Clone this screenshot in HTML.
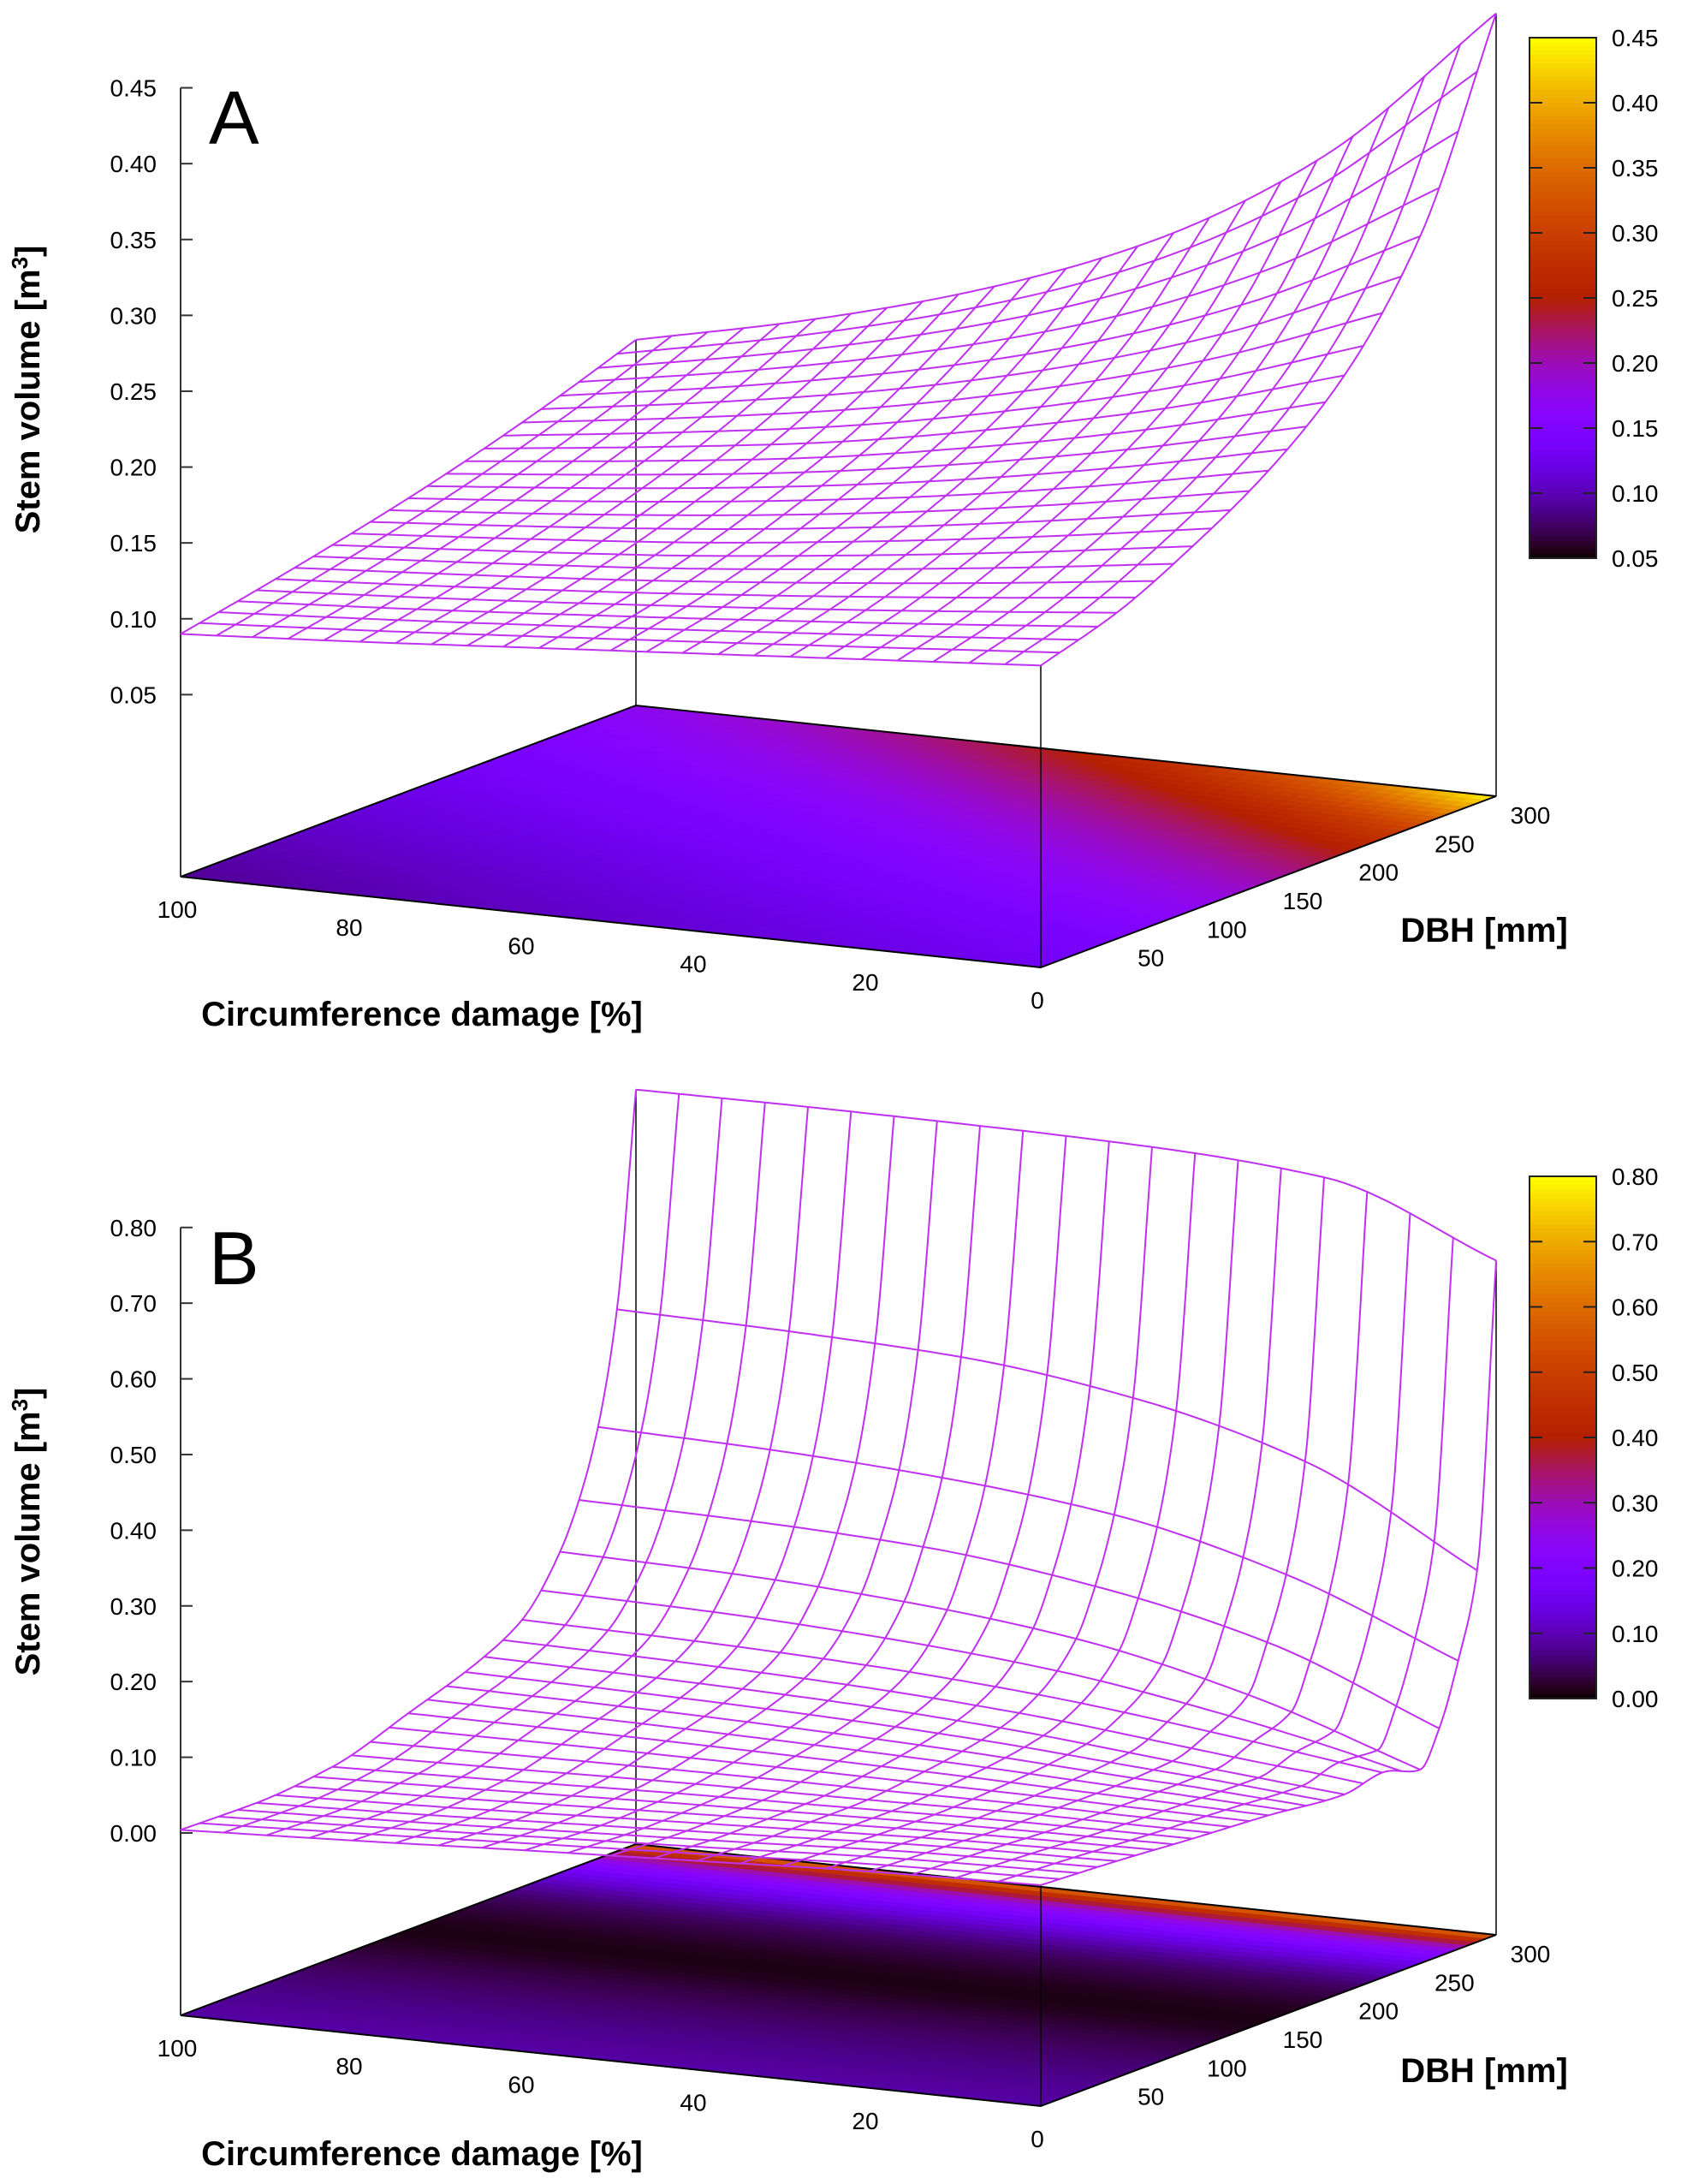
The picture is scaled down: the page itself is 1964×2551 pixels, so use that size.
<!DOCTYPE html>
<html><head><meta charset="utf-8"><style>
html,body{margin:0;padding:0;background:#fff}
svg{display:block}
text{font-family:"Liberation Sans",sans-serif;fill:#000}
.t{font-size:28px}
.lab{font-size:40px;font-weight:bold}
</style></head><body>
<svg id="fig" width="1964" height="2551" viewBox="0 0 1964 2551" xmlns="http://www.w3.org/2000/svg">
<rect width="1964" height="2551" fill="#fff"/>
</svg>
<script>
// ---------- data: panel A ----------
const dbhNodesA = [0,50,100,150,200,250,300];
const damageNodesA = [0,20,40,60,80,100];
const volumeA = [
 [0.129,0.121,0.113,0.105,0.097,0.090],
 [0.145,0.134,0.124,0.115,0.107,0.100],
 [0.170,0.154,0.140,0.128,0.119,0.111],
 [0.201,0.179,0.160,0.145,0.133,0.123],
 [0.245,0.212,0.186,0.165,0.150,0.137],
 [0.318,0.262,0.222,0.193,0.171,0.153],
 [0.446,0.340,0.272,0.228,0.196,0.171]
];
const zTicksA = ["0.05","0.10","0.15","0.20","0.25","0.30","0.35","0.40","0.45"];
const cbTicksA = ["0.05","0.10","0.15","0.20","0.25","0.30","0.35","0.40","0.45"];
// ---------- data: panel B ----------
const dbhNodesB = [0,50,100,150,200,225,250,262.5,275,287.5,300];
const damageNodesB = [0,20,40,60,80,100];
const volumeB = [
 [0.051,0.045,0.035,0.025,0.014,0.004],
 [0.045,0.040,0.030,0.020,0.010,0.002],
 [0.037,0.035,0.030,0.025,0.018,0.012],
 [0.030,0.035,0.040,0.043,0.045,0.045],
 [0.020,0.040,0.060,0.072,0.078,0.082],
 [0.030,0.060,0.085,0.100,0.108,0.112],
 [0.015,0.090,0.140,0.165,0.178,0.183],
 [0.060,0.150,0.200,0.228,0.238,0.242],
 [0.140,0.230,0.285,0.310,0.323,0.329],
 [0.250,0.370,0.430,0.460,0.470,0.475],
 [0.650,0.736,0.752,0.756,0.757,0.756]
];
const baseColorB = [0.09,0.07,0.04,0.01,0.04,0.08,0.15,0.20,0.27,0.40,0.60];
const zTicksB = ["0.00","0.10","0.20","0.30","0.40","0.50","0.60","0.70","0.80"];
const cbTicksB = ["0.00","0.10","0.20","0.30","0.40","0.50","0.60","0.70","0.80"];
const damageTicks = ["0","20","40","60","80","100"];
const dbhTicks = ["50","100","150","200","250","300"];

const NS="http://www.w3.org/2000/svg";
const svg=document.getElementById('fig');
function mk(tag,attrs,parent){const e=document.createElementNS(NS,tag);for(const k in attrs)e.setAttribute(k,attrs[k]);(parent||svg).appendChild(e);return e;}
function pal(x){x=Math.max(0,Math.min(1,x));const r=Math.sqrt(x),g=x*x*x,b=Math.max(0,Math.sin(2*Math.PI*x));return `rgb(${Math.round(r*255)},${Math.round(g*255)},${Math.round(b*255)})`;}
// monotone cubic (PCHIP) interpolation
function interp1(xs,ys,v){
  const n=xs.length;
  if(v<=xs[0])return ys[0];
  if(v>=xs[n-1])return ys[n-1];
  const h=[],del=[];
  for(let i=0;i<n-1;i++){h.push(xs[i+1]-xs[i]);del.push((ys[i+1]-ys[i])/h[i]);}
  const m=new Array(n);
  m[0]=del[0];m[n-1]=del[n-2];
  for(let i=1;i<n-1;i++){
    if(del[i-1]*del[i]<=0)m[i]=0;
    else{const w1=2*h[i]+h[i-1],w2=h[i]+2*h[i-1];m[i]=(w1+w2)/(w1/del[i-1]+w2/del[i]);}
  }
  let i=0;while(v>xs[i+1])i++;
  const t=(v-xs[i])/h[i],t2=t*t,t3=t2*t;
  return (2*t3-3*t2+1)*ys[i]+(t3-2*t2+t)*h[i]*m[i]+(-2*t3+3*t2)*ys[i+1]+(t3-t2)*h[i]*m[i+1];
}
function surf(P,d,D){
  const col=P.mat.map(row=>interp1(P.dn,row,d));
  return interp1(P.Dn,col,D);
}
function build(P){
  const g=mk('g',{});
  
  
  const base=(d,D)=>[P.F[0]+d/100*(P.L[0]-P.F[0])+D/300*(P.R[0]-P.F[0]),P.F[1]+d/100*(P.L[1]-P.F[1])+D/300*(P.R[1]-P.F[1])];
  const proj=(d,D,z)=>{const b=base(d,D);return [b[0],b[1]-(z-P.zbase)*P.k];};
  const cval=P.colorFn;
  const frac=v=>(v-P.cbMin)/(P.cbMax-P.cbMin);
  const bm=mk('g',{},g);
  
  
  const N=50;
  for(let i=0;i<N;i++)for(let j=0;j<N;j++){
    const d0=i*100/N,d1=(i+1)*100/N,D0=j*300/N,D1=(j+1)*300/N;
    const c=pal(frac(cval((d0+d1)/2,(D0+D1)/2)));
    const pts=[base(d0,D0),base(d1,D0),base(d1,D1),base(d0,D1)].map(p=>p[0].toFixed(1)+','+p[1].toFixed(1)).join(' ');
    const q=mk('polygon',{points:pts,fill:c,stroke:c,'stroke-width':1},bm);
    
    
  }
  const corners=[base(0,0),base(100,0),base(100,300),base(0,300)];
  const bb=mk('polygon',{points:corners.map(p=>p.join(',')).join(' '),fill:'none',stroke:'#000','stroke-width':2},g);
  
  
  [[100,300],[0,0],[0,300]].forEach(c=>{
    const b=base(c[0],c[1]),t=proj(c[0],c[1],surf(P,c[0],c[1]));
    const l=mk('line',{x1:b[0],y1:b[1],x2:t[0],y2:t[1],stroke:'#000','stroke-width':1.5},g);
    
    
  });
  const zb=base(100,0);
  const ax=mk('line',{x1:zb[0],y1:zb[1],x2:zb[0],y2:zb[1]-(P.zMax-P.zbase)*P.k,stroke:'#333','stroke-width':2},g);
  
  
  P.zTicks.forEach(s=>{
    const v=parseFloat(s),y=zb[1]-(v-P.zbase)*P.k;
    const tk=mk('line',{x1:zb[0],y1:y,x2:zb[0]+14,y2:y,stroke:'#333','stroke-width':2},g);
    
    
    const t=mk('text',{x:zb[0]-28,y:y+10,'text-anchor':'end','class':'t'},g);t.textContent=s;
    
    
  });
  damageTicks.forEach(s=>{
    const v=parseFloat(s),b=base(v,0);
    const t=mk('text',{x:b[0]-4,y:b[1]+48,'text-anchor':'middle','class':'t'},g);t.textContent=s;
    
    
  });
  dbhTicks.forEach(s=>{
    const v=parseFloat(s),b=base(0,v);
    const t=mk('text',{x:b[0]+40,y:b[1]+32,'text-anchor':'middle','class':'t'},g);t.textContent=s;
    
    
  });
  const mesh=mk('g',{fill:'none',stroke:'#c030f0','stroke-width':2},g);
  
  
  const S=80;
  for(let j=0;j<=P.nD;j++){
    const D=j*300/P.nD;let s='';
    for(let i=0;i<=S;i++){const d=i*100/S;const p=proj(d,D,surf(P,d,D));s+=(i?'L':'M')+p[0].toFixed(1)+','+p[1].toFixed(1);}
    const pl=mk('path',{d:s},mesh);
    
    
  }
  for(let i=0;i<=P.nd;i++){
    const d=i*100/P.nd;let s='';
    for(let j=0;j<=S*3;j++){const D=j*300/(S*3);const p=proj(d,D,surf(P,d,D));s+=(j?'L':'M')+p[0].toFixed(1)+','+p[1].toFixed(1);}
    const pl=mk('path',{d:s},mesh);
    
    
  }
  const cb=mk('g',{},g);
  
  
  const [cx0,cy0,cx1,cy1]=P.cb;const M=120;
  for(let k=0;k<M;k++){
    const y=cy0+(cy1-cy0)*k/M;
    const r=mk('rect',{x:cx0,y:y,width:cx1-cx0,height:(cy1-cy0)/M+1,fill:pal(1-(k+0.5)/M)},cb);
    
    
  }
  mk('rect',{x:cx0,y:cy0,width:cx1-cx0,height:cy1-cy0,fill:'none',stroke:'#222','stroke-width':2},cb);
  P.cbTicks.forEach(s=>{
    const v=parseFloat(s),y=cy1-(v-P.cbMin)/(P.cbMax-P.cbMin)*(cy1-cy0);
    mk('line',{x1:cx0,y1:y,x2:cx0+15,y2:y,stroke:'#222','stroke-width':2},cb);
    mk('line',{x1:cx1-15,y1:y,x2:cx1,y2:y,stroke:'#222','stroke-width':2},cb);
    const t=mk('text',{x:cx1+18,y:y+10,'class':'t'},cb);t.textContent=s;
    
    
  });
  const yl=mk('text',{x:0,y:0,'class':'lab','text-anchor':'middle',transform:`translate(46,${P.yLabelY}) rotate(-90)`},g);
  yl.innerHTML='Stem volume [m<tspan dy="-14" font-size="26">3</tspan><tspan dy="14">]</tspan>';
  
  
  const xl=mk('text',{x:493,y:P.xLabelY,'class':'lab','text-anchor':'middle'},g);xl.textContent='Circumference damage [%]';
  
  
  const dl=mk('text',{x:1734,y:P.dbhLabelY,'class':'lab','text-anchor':'middle'},g);dl.textContent='DBH [mm]';
  
  
  const pl=mk('text',{x:244,y:P.letterY,'font-size':'88'},g);pl.textContent=P.letter;
  
  
}
const PA={name:'panel-a',F:[1216,1130],L:[211,1024],R:[1748,930],zbase:-0.070,k:1772,zMax:0.45,
  Dn:dbhNodesA,dn:damageNodesA,mat:volumeA,nD:24,nd:24,zTicks:zTicksA,cbTicks:cbTicksA,cbMin:0.05,cbMax:0.45,
  cb:[1787,44,1865,652],yLabelY:455,xLabelY:1198,dbhLabelY:1100,letterY:168,letter:'A'};
PA.colorFn=(d,D)=>surf(PA,d,D);
const PB={name:'panel-b',F:[1216,2460],L:[211,2354],R:[1748,2260],zbase:-0.241,k:884,zMax:0.80,
  Dn:dbhNodesB,dn:damageNodesB,mat:volumeB,nD:24,nd:20,zTicks:zTicksB,cbTicks:cbTicksB,cbMin:0,cbMax:0.8,
  cb:[1787,1374,1865,1984],yLabelY:1789,xLabelY:2529,dbhLabelY:2432,letterY:1500,letter:'B'};
PB.colorFn=(d,D)=>interp1(dbhNodesB,baseColorB,D);
build(PA);build(PB);
</script>
</body></html>
